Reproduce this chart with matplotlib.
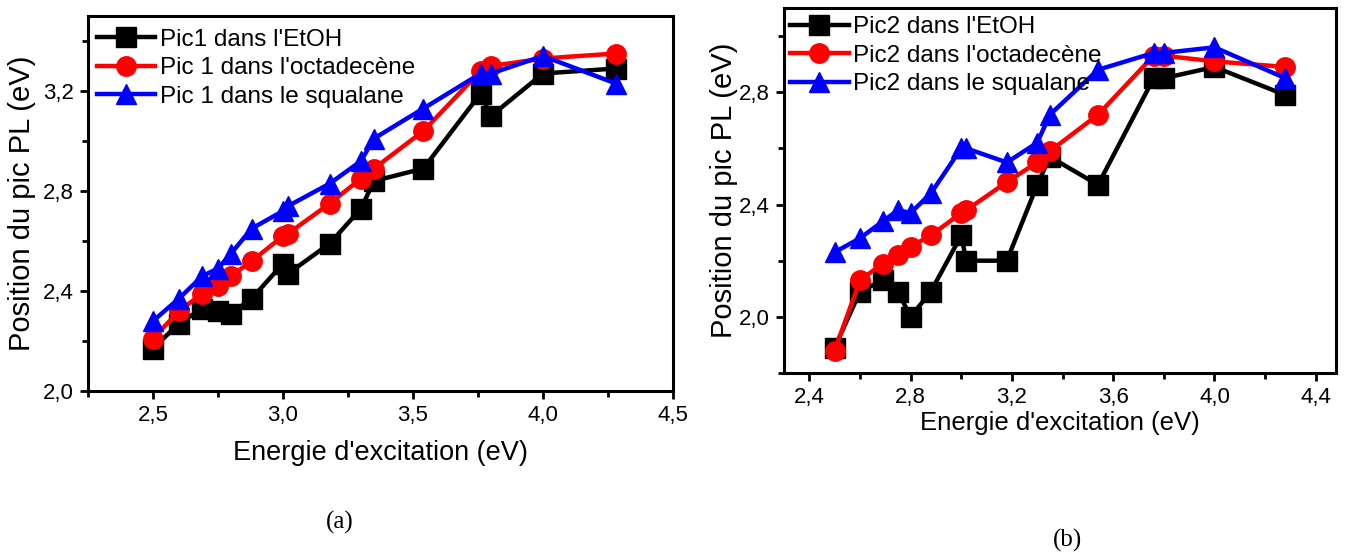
import matplotlib
matplotlib.use('Agg')
import matplotlib.pyplot as plt
from matplotlib.ticker import MultipleLocator, FuncFormatter

plt.rcParams['font.family'] = ['Liberation Sans', 'DejaVu Sans']

# ---------------------------
# data (a) : Pic 1
# ---------------------------
E1 = [2.50, 2.60, 2.69, 2.75, 2.80, 2.88, 3.00, 3.02, 3.18, 3.30, 3.35, 3.54, 3.76, 3.80, 4.00, 4.28]
pic1_etoh = [2.17, 2.27, 2.33, 2.32, 2.31, 2.37, 2.51, 2.47, 2.59, 2.73, 2.84, 2.89, 3.19, 3.10, 3.27, 3.29]
pic1_octa = [2.21, 2.32, 2.39, 2.42, 2.46, 2.52, 2.62, 2.63, 2.75, 2.85, 2.89, 3.04, 3.28, 3.30, 3.33, 3.35]
pic1_squa = [2.28, 2.37, 2.46, 2.49, 2.55, 2.65, 2.72, 2.74, 2.83, 2.92, 3.01, 3.13, 3.27, 3.27, 3.34, 3.23]

# ---------------------------
# data (b) : Pic 2
# ---------------------------
E2 = [2.50, 2.60, 2.69, 2.75, 2.80, 2.88, 3.00, 3.02, 3.18, 3.30, 3.35, 3.54, 3.76, 3.80, 4.00, 4.28]
pic2_etoh = [1.89, 2.09, 2.13, 2.09, 2.00, 2.09, 2.29, 2.20, 2.20, 2.47, 2.57, 2.47, 2.85, 2.85, 2.89, 2.79]
pic2_octa = [1.88, 2.13, 2.19, 2.22, 2.25, 2.29, 2.37, 2.38, 2.48, 2.55, 2.59, 2.72, 2.93, 2.93, 2.91, 2.89]
pic2_squa = [2.23, 2.28, 2.34, 2.38, 2.37, 2.44, 2.60, 2.60, 2.55, 2.62, 2.72, 2.88, 2.94, 2.94, 2.96, 2.85]

labels1 = ["Pic1 dans l'EtOH", "Pic 1 dans l'octadecène", "Pic 1 dans le squalane"]
labels2 = ["Pic2 dans l'EtOH", "Pic2 dans l'octadecène", "Pic2 dans le squalane"]

W, H = 1346, 554
fig = plt.figure(figsize=(W / 100, H / 100), dpi=100)
ax1 = fig.add_axes([88 / W, 1 - 391 / H, (673 - 88) / W, (391 - 16) / H])
ax2 = fig.add_axes([784 / W, 1 - 373 / H, (1336 - 784) / W, (373 - 8) / H])

comma = FuncFormatter(lambda v, p: f"{v:.1f}".replace('.', ','))


def draw(ax, x, series, labels, xfs, yfs, anchor):
    styles = [('black', 's', 14), ('red', 'o', 14), ('blue', '^', 15)]
    for y, lab, (c, m, ms) in zip(series, labels, styles):
        ax.plot(x, y, color=c, marker=m, markersize=ms, linewidth=3.2, label=lab)
    for s in ax.spines.values():
        s.set_linewidth(2.2)
    ax.tick_params(which='both', direction='out', width=2, labelsize=16, pad=4)
    ax.tick_params(which='major', length=6)
    ax.tick_params(which='minor', length=4)
    ax.xaxis.set_major_formatter(comma)
    ax.yaxis.set_major_formatter(comma)
    ax.set_xlabel("Energie d'excitation (eV)", fontsize=xfs)
    ax.set_ylabel("Position du pic PL (eV)", fontsize=yfs)
    ax.legend(loc='upper left', bbox_to_anchor=anchor, frameon=False, fontsize=17.5,
              labelspacing=0.27, handlelength=2.4, handletextpad=0.2,
              borderaxespad=0, borderpad=0.1)


draw(ax1, E1, [pic1_etoh, pic1_octa, pic1_squa], labels1, 19.5, 21, (0.011, 0.973))
ax1.set_xlim(2.25, 4.5)
ax1.set_ylim(2.0, 3.5)
ax1.xaxis.set_major_locator(MultipleLocator(0.5))
ax1.xaxis.set_minor_locator(MultipleLocator(0.25))
ax1.yaxis.set_major_locator(MultipleLocator(0.4))
ax1.yaxis.set_minor_locator(MultipleLocator(0.2))
ax1.xaxis.labelpad = 10
ax1.yaxis.labelpad = 5

draw(ax2, E2, [pic2_etoh, pic2_octa, pic2_squa], labels2, 18.5, 21, (0.007, 0.984))
ax2.set_xlim(2.3, 4.48)
ax2.set_ylim(1.8, 3.1)
ax2.xaxis.set_major_locator(MultipleLocator(0.4))
ax2.xaxis.set_minor_locator(MultipleLocator(0.2))
ax2.yaxis.set_major_locator(MultipleLocator(0.4))
ax2.yaxis.set_minor_locator(MultipleLocator(0.2))
ax2.xaxis.labelpad = 2
ax2.yaxis.labelpad = 1

fig.text(340 / W, 1 - 522 / H, "(a)", ha='center', va='center', fontsize=18, family='Liberation Serif')
fig.text(1068 / W, 1 - 540 / H, "(b)", ha='center', va='center', fontsize=18, family='Liberation Serif')

fig.savefig('out.png', dpi=100)
